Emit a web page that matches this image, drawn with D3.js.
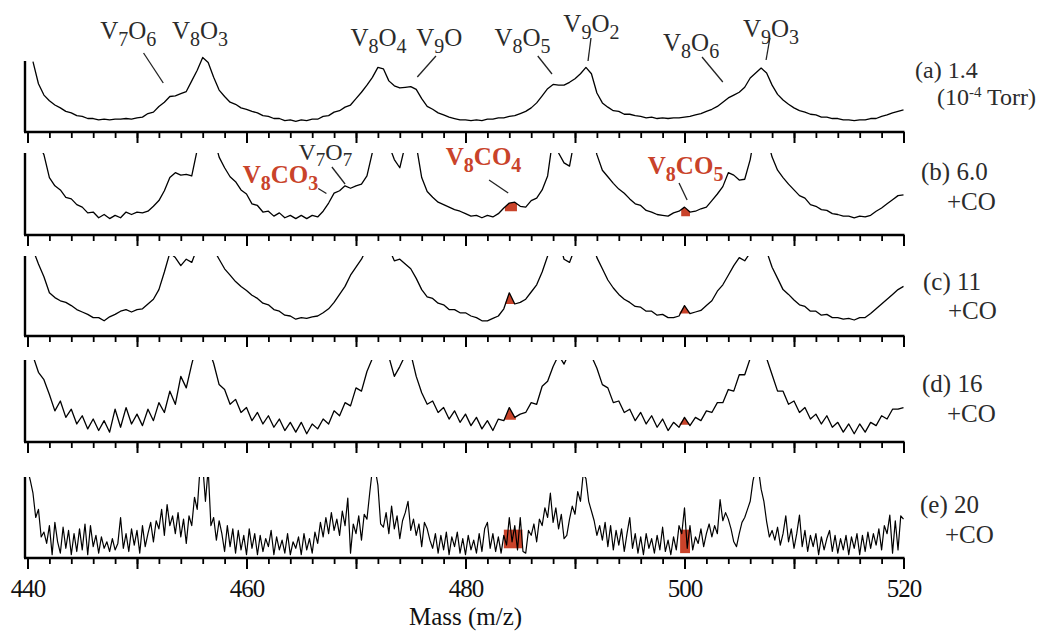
<!DOCTYPE html>
<html>
<head>
<meta charset="utf-8">
<script src="https://cdn.jsdelivr.net/npm/d3@7"></script>
<style>
  body { margin: 0; background: #fff; }
  svg { display: block; font-family: "Liberation Serif", "Times New Roman", serif; }
</style>
</head>
<body>
<div id="chart"></div>
<script>
const width = 1064;
const height = 631;

const massStart = 440;
const steps = [0.5, 0.5, 0.5, 0.5, 0.25];

// Intensities, % of each panel's height (values > 100 run off the top and get clipped)
const specA = [
  null, 99, 68, 52, 44, 38, 34, 29, 27, 23,
  22, 19, 19, 17, 18, 17, 18, 18, 19, 18,
  20, 21, 26, 28, 36, 42, 50, 51, 54, 57,
  72, 87, 105, 98, 77, 59, 50, 42, 39, 34,
  32, 29, 27, 23, 22, 19, 19, 16, 17, 15,
  17, 16, 18, 18, 22, 23, 28, 30, 35, 38,
  47, 56, 66, 77, 91, 89, 72, 65, 62, 63,
  64, 60, 47, 36, 32, 27, 24, 21, 19, 17,
  17, 16, 17, 16, 18, 18, 20, 20, 22, 23,
  26, 29, 34, 41, 51, 61, 67, 66, 66, 70,
  75, 82, 91, 82, 55, 41, 35, 30, 29, 25,
  25, 23, 22, 20, 21, 19, 20, 19, 20, 20,
  21, 22, 24, 26, 29, 32, 36, 42, 48, 52,
  56, 63, 76, 83, 90, 83, 66, 53, 45, 39,
  34, 30, 28, 25, 24, 21, 21, 19, 19, 17,
  17, 16, 17, 17, 19, 19, 22, 24, 27, 29,
  31
];
const specB = [
  140, 130, 112, 98, 70, 60, 55, 46, 44, 37,
  34, 27, 28, 21, 25, 20, 24, 21, 28, 25,
  28, 27, 29, 35, 42, 54, 70, 76, 73, 74,
  72, 104, 128, 140, 120, 95, 82, 71, 65, 55,
  50, 38, 36, 28, 29, 23, 27, 21, 24, 20,
  24, 20, 24, 22, 29, 39, 51, 54, 60, 57,
  60, 62, 72, 101, 125, 130, 110, 92, 82, 110,
  130, 110, 70, 53, 46, 40, 37, 34, 31, 29,
  26, 23, 24, 21, 24, 22, 26, 33, 39, 40,
  35, 34, 42, 45, 55, 72, 120, 100, 88, 84,
  120, 130, 140, 125, 98, 79, 71, 63, 56, 51,
  44, 38, 36, 30, 28, 25, 24, 23, 27, 29,
  34, 28, 29, 32, 34, 42, 50, 59, 76, 73,
  67, 68, 92, 130, 140, 120, 95, 79, 70, 62,
  55, 48, 45, 37, 35, 31, 30, 26, 25, 23,
  23, 21, 23, 22, 24, 29, 33, 38, 43, 48,
  49
];
const specC = [
  120, 108, 90, 74, 54, 48, 44, 42, 38, 33,
  30, 27, 23, 23, 19, 24, 27, 31, 33, 30,
  33, 34, 40, 46, 58, 80, 104, 98, 88, 96,
  92, 110, 130, 130, 108, 96, 84, 76, 68, 62,
  57, 51, 47, 41, 39, 33, 31, 26, 25, 21,
  23, 22, 24, 25, 29, 34, 42, 52, 62, 76,
  86, 96, 110, 130, 140, 130, 110, 94, 96, 90,
  84, 72, 58, 49, 47, 41, 39, 33, 33, 29,
  29, 25, 23, 19, 19, 22, 25, 34, 54, 40,
  42, 46, 55, 64, 80, 100, 120, 120, 96, 92,
  110, 130, 130, 120, 98, 84, 70, 60, 52, 46,
  42, 37, 36, 31, 31, 26, 27, 23, 23, 25,
  38, 28, 30, 32, 38, 44, 56, 64, 76, 88,
  98, 94, 104, 130, 130, 106, 86, 72, 58, 52,
  45, 39, 37, 31, 31, 26, 27, 23, 23, 21,
  22, 20, 23, 23, 28, 34, 40, 46, 52, 58,
  62
];
const specD = [
  120, 105, 85, 76, 58, 38, 50, 30, 40, 22,
  32, 16, 28, 14, 26, 12, 40, 18, 42, 22,
  34, 20, 40, 26, 48, 36, 62, 46, 80, 66,
  95, 120, 130, 115, 96, 70, 64, 46, 52, 36,
  42, 26, 36, 22, 32, 18, 28, 14, 24, 12,
  24, 10, 22, 16, 28, 22, 38, 32, 48, 44,
  66, 62, 86, 102, 130, 120, 104, 80, 92, 106,
  108, 80, 60, 46, 50, 36, 42, 28, 38, 24,
  34, 20, 30, 16, 26, 14, 28, 26, 42, 30,
  34, 36, 48, 46, 68, 74, 92, 106, 95, 110,
  120, 130, 130, 105, 90, 70, 66, 48, 50, 36,
  40, 26, 36, 22, 32, 18, 28, 14, 24, 18,
  30, 20, 30, 26, 38, 36, 48, 48, 64, 62,
  82, 82, 102, 125, 130, 102, 82, 62, 62, 46,
  50, 36, 42, 28, 34, 22, 32, 18, 24, 12,
  22, 10, 22, 12, 24, 20, 32, 28, 40, 40,
  42
];
const specE = [
  110, 96, 80, 50, 60, 26, 32, 18, 40, 4, 44, 20, 6, 38, 12, 34, 4, 30, 8, 36,
  10, 42, 4, 40, 14, 28, 6, 26, 12, 20, 8, 24, 10, 18, 50, 12, 30, 8, 36, 16,
  34, 6, 40, 14, 30, 44, 20, 46, 36, 60, 28, 66, 40, 52, 30, 56, 26, 48, 18, 52,
  40, 75, 60, 110, 115, 70, 110, 40, 50, 22, 46, 30, 8, 40, 14, 36, 6, 34, 10, 28,
  4, 36, 12, 30, 4, 28, 8, 24, 14, 34, 4, 26, 10, 22, 6, 30, 4, 20, 12, 26,
  4, 30, 10, 24, 6, 32, 18, 44, 26, 50, 30, 56, 34, 48, 28, 58, 40, 74, 6, 42,
  30, 52, 22, 54, 48, 80, 110, 110, 90, 42, 38, 56, 30, 64, 36, 52, 24, 46, 56, 70,
  34, 48, 28, 42, 14, 44, 36, 22, 12, 30, 6, 28, 10, 32, 4, 26, 14, 32, 6, 24,
  4, 28, 10, 22, 6, 30, 8, 36, 44, 12, 30, 8, 26, 6, 28, 16, 50, 20, 40, 10,
  50, 8, 6, 34, 28, 42, 20, 48, 40, 62, 50, 80, 44, 62, 36, 54, 24, 28, 48, 64,
  54, 82, 70, 104, 98, 70, 58, 46, 28, 40, 22, 44, 14, 40, 10, 34, 16, 36, 8, 30,
  50, 12, 30, 6, 26, 4, 30, 12, 24, 6, 28, 10, 38, 8, 22, 4, 26, 10, 40, 30,
  62, 12, 40, 10, 26, 18, 36, 14, 30, 42, 26, 40, 30, 72, 46, 56, 48, 36, 20, 14,
  30, 44, 50, 60, 70, 95, 110, 110, 85, 70, 45, 26, 34, 22, 38, 16, 30, 52, 20, 36,
  12, 30, 53, 14, 34, 8, 28, 14, 30, 4, 26, 10, 24, 34, 8, 28, 6, 24, 10, 28,
  4, 26, 12, 30, 4, 28, 8, 32, 12, 30, 16, 36, 10, 40, 30, 53, 6, 46, 10, 52,
  48
];
const spectra = [specA, specB, specC, specD, specE];

// CO adduct peaks shaded red: mass range, floor (and a flat top for panel e)
const coBands = [
  { panel: 1, from: 483.6, to: 484.7, base: 29 },
  { panel: 1, from: 499.7, to: 500.5, base: 23 },
  { panel: 2, from: 483.6, to: 484.6, base: 40 },
  { panel: 2, from: 499.2, to: 500.5, base: 28 },
  { panel: 3, from: 483.4, to: 484.6, base: 27 },
  { panel: 3, from: 499.3, to: 500.5, base: 21 },
  { panel: 4, from: 483.5, to: 485.2, base: 12, cap: 35 },
  { panel: 4, from: 499.6, to: 500.5, base: 6, cap: 35 }
];

const panelLabels = ["(a) 1.4", "(b) 6.0", "(c) 11", "(d) 16", "(e) 20"];
const panelNotes = ["(10|-4| Torr)", "+CO", "+CO", "+CO", "+CO"];

const minorTicks = d3.range(440, 521, 2);
const majorTicks = d3.range(440, 521, 10);
const tickLabels = [440, 460, 480, 500, 520];

// peak assignments: formula, centre mass, leader line (mass, y -> mass, y)
const peakLabels = [
  { f: "V7O6", m: 449.2, y: 39, lead: [450.6, 53, 452.4, 83] },
  { f: "V8O3", m: 455.75, y: 39 },
  { f: "V8O4", m: 472.05, y: 46 },
  { f: "V9O", m: 477.6, y: 46, lead: [477.3, 56, 475.6, 77] },
  { f: "V8O5", m: 485.2, y: 46, lead: [486.6, 56, 487.9, 74] },
  { f: "V9O2", m: 491.5, y: 31.5, lead: [491.46, 38, 491.19, 61] },
  { f: "V8O6", m: 500.6, y: 51, lead: [501.6, 57, 503.5, 82] },
  { f: "V9O3", m: 507.9, y: 37, lead: [507.8, 38, 507.45, 60] },
  { f: "V7O7", m: 467.2, y: 160, size: 24, lead: [467.8, 167, 469.0, 184] },
  { f: "V8CO3", m: 463.1, y: 183, size: 25, red: true, lead: [466.55, 188.5, 467.3, 193.5] },
  { f: "V8CO4", m: 481.65, y: 165, size: 25, red: true, lead: [482.15, 180, 483.9, 193] },
  { f: "V8CO5", m: 500.1, y: 174, size: 25, red: true, lead: [499.5, 183, 500.24, 200] }
];

// panel geometry
const layout = [
  { top: 61, bottom: 132, clipTop: 45, labelY: 78, noteY: 105, labelX: 915, noteX: 937, size: 24 },
  { top: 153, bottom: 235, labelY: 180, noteY: 210, labelX: 921, noteX: 947 },
  { top: 256, bottom: 336, labelY: 290, noteY: 319, labelX: 923, noteX: 948 },
  { top: 360, bottom: 442, labelY: 392, noteY: 422, labelX: 922, noteX: 947 },
  { top: 477, bottom: 558, labelY: 513, noteY: 543, labelX: 920, noteX: 945 }
];

const red = "#c9432a";
const ink = "#2b2b2b";

const x = d3.scaleLinear().domain([440, 520]).range([27.5, 903.5]);

const svg = d3.select("#chart")
  .append("svg")
  .attr("width", width)
  .attr("height", height);

const defs = svg.append("defs");

spectra.forEach((spec, i) => {
  const p = layout[i];
  const step = steps[i];
  const y = d3.scaleLinear().domain([0, 100]).range([p.bottom, p.top]);
  const g = svg.append("g");
  const clipTop = p.clipTop ?? p.top;

  defs.append("clipPath").attr("id", "clip" + i)
    .append("rect")
    .attr("x", 25).attr("y", clipTop)
    .attr("width", 881).attr("height", p.bottom - clipTop);

  const pts = spec.map((v, j) => ({ m: massStart + j * step, v }));
  const valueAt = m => {
    const j = Math.min(Math.floor((m - massStart) / step), pts.length - 2);
    const t = (m - pts[j].m) / step;
    return pts[j].v + t * (pts[j + 1].v - pts[j].v);
  };

  // red CO bands
  coBands.filter(b => b.panel === i).forEach(b => {
    const ms = [b.from, ...pts.map(d => d.m).filter(m => m > b.from && m < b.to), b.to];
    const band = ms.map(m => ({ m, top: b.cap ?? Math.max(b.base, valueAt(m)) }));
    g.append("path")
      .datum(band)
      .attr("d", d3.area().x(d => x(d.m)).y0(y(b.base)).y1(d => y(d.top)))
      .attr("fill", red);
  });

  // spectrum
  g.append("path")
    .datum(pts)
    .attr("clip-path", `url(#clip${i})`)
    .attr("d", d3.line().defined(d => d.v != null).x(d => x(d.m)).y(d => y(d.v)))
    .attr("fill", "none")
    .attr("stroke", "#000")
    .attr("stroke-width", i === 4 ? 1.2 : 1.3)
    .attr("stroke-linejoin", "round");

  // ticks
  g.append("g")
    .attr("transform", `translate(0,${p.bottom})`)
    .call(d3.axisBottom(x).tickValues(minorTicks).tickSize(6).tickFormat(""))
    .call(a => a.select(".domain").remove())
    .call(a => a.selectAll("line").attr("stroke", "#000").attr("stroke-width", 1.8));

  const major = g.append("g")
    .attr("transform", `translate(0,${p.bottom})`)
    .call(d3.axisBottom(x).tickValues(majorTicks).tickSize(11).tickPadding(10)
      .tickFormat(d => (i === 4 && tickLabels.includes(d)) ? d : ""))
    .call(a => a.select(".domain").remove())
    .call(a => a.selectAll("line").attr("stroke", "#000").attr("stroke-width", 2));
  major.attr("font-family", null).attr("font-size", null);
  major.selectAll("text")
    .attr("fill", "#111")
    .style("font-size", "25px")
    .style("letter-spacing", "-1px");

  // axis frame
  g.append("line")
    .attr("x1", 24).attr("x2", 904.5)
    .attr("y1", p.bottom).attr("y2", p.bottom)
    .attr("stroke", "#000").attr("stroke-width", 2.4);
  g.append("line")
    .attr("x1", 25).attr("x2", 25)
    .attr("y1", p.top).attr("y2", p.bottom)
    .attr("stroke", "#000").attr("stroke-width", 2.4);

  // right-hand labels
  const fs = (p.size || 25) + "px";
  svg.append("text")
    .attr("x", p.labelX).attr("y", p.labelY)
    .attr("fill", ink).style("font-size", fs)
    .text(panelLabels[i]);

  const note = svg.append("text")
    .attr("x", p.noteX).attr("y", p.noteY)
    .attr("fill", ink).style("font-size", fs);
  const bits = panelNotes[i].split("|");
  if (bits.length === 3) {
    note.append("tspan").text(bits[0]);
    note.append("tspan").text(bits[1]).style("font-size", "15px").attr("dy", -8);
    note.append("tspan").text(bits[2]).attr("dy", 8);
  } else {
    note.text(bits[0]);
  }
});

// formula labels with subscripts
function formula(sel, str, size) {
  const sub = Math.round(size * 0.78);
  const shift = Math.round(size * 0.26);
  let down = false;
  str.match(/[A-Z][a-z]?|\d+/g).forEach(t => {
    const num = /\d/.test(t);
    const ts = sel.append("tspan").text(t).style("font-size", (num ? sub : size) + "px");
    if (num && !down) { ts.attr("dy", shift); down = true; }
    else if (!num && down) { ts.attr("dy", -shift); down = false; }
  });
}

peakLabels.forEach(d => {
  const size = d.size || 25;
  const t = svg.append("text")
    .attr("x", x(d.m)).attr("y", d.y)
    .attr("text-anchor", "middle")
    .attr("fill", d.red ? red : ink)
    .attr("font-weight", d.red ? "bold" : null);
  formula(t, d.f, size);
  if (d.lead) {
    svg.append("line")
      .attr("x1", x(d.lead[0])).attr("y1", d.lead[1])
      .attr("x2", x(d.lead[2])).attr("y2", d.lead[3])
      .attr("stroke", "#222").attr("stroke-width", 1.3);
  }
});

// x axis title
svg.append("text")
  .attr("x", x(480)).attr("y", 625)
  .attr("text-anchor", "middle")
  .attr("fill", "#111")
  .style("font-size", "25px")
  .text("Mass (m/z)");
</script>
</body>
</html>
